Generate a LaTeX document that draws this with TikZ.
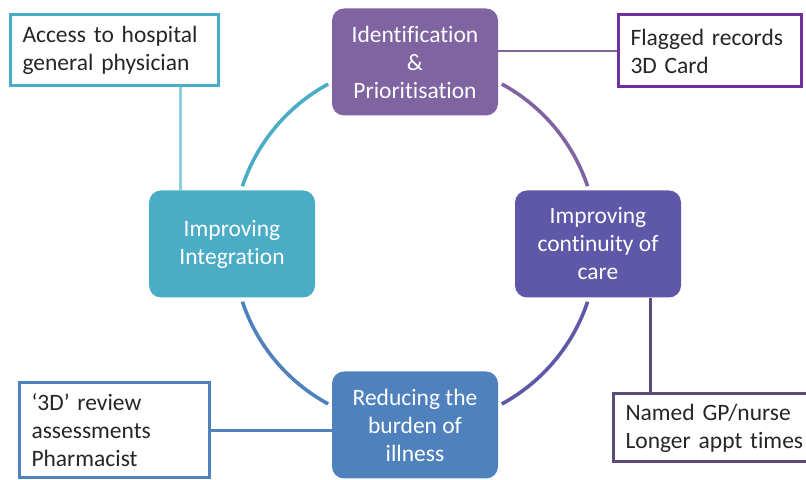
\documentclass[tikz,border=0pt]{standalone}
\usepackage{fontspec}
\setmainfont{Carlito}[Ligatures={TeX,NoCommon}]
\usepackage{xcolor}
\usetikzlibrary{positioning}

\definecolor{integcol}{HTML}{4BACC6}
\definecolor{identcol}{HTML}{8064A2}
\definecolor{contincol}{HTML}{5F58A8}
\definecolor{burdencol}{HTML}{4F81BD}
\definecolor{flagcol}{HTML}{7030A0}
\definecolor{namedcol}{HTML}{5F4B78}
\definecolor{accesslink}{HTML}{8ECFE0}

\begin{document}
\begin{tikzpicture}[x=0.5pt, y=0.5pt,
	txt/.style={font=\fontsize{11.75}{14}\selectfont},
	stage/.style={txt, rounded corners=6pt, minimum width=83pt, minimum height=53.5pt,
		align=center, text=white, inner sep=2pt},
	note/.style={txt, draw, line width=1.5pt, fill=white, align=left,
		inner xsep=6pt, text=black!85},
	ring/.style={line width=1.8pt},
	link/.style={line width=1.2pt}]
		\useasboundingbox (0,0) rectangle (806,480);
		\clip (0,0) rectangle (806,480);
		\coordinate (hub) at (415,236);
		% the four stages round the cycle
		\node[stage, fill=identcol] (ident) at (415,418) {Identification\\\&\\Prioritisation};
		\node[stage, fill=contincol] (contin) at (598,236) {Improving\\continuity of\\care};
		\node[stage, fill=burdencol] (burden) at (415,55) {Reducing the\\burden of\\illness};
		\node[stage, fill=integcol] (integ) at (232,236) {Improving\\Integration};
		% arcs of the ring, each in the colour of the stage it leaves
		\foreach \a/\c in {161.5/integcol, 61.5/identcol, -18.5/contincol, -118.5/burdencol}
		\draw[ring, \c] ([shift={(\a:182)}]hub) arc[start angle=\a, delta angle=-43, radius=182];
		% notes beside the stages
		\node[note, draw=integcol, text width=92pt, minimum height=35.5pt] (access) at (114.5,429.5)
			{Access to hospital\\general physician};
		\node[note, draw=flagcol, text width=79.5pt, minimum height=36pt] (flagged) at (710,429)
			{Flagged records\\3D Card};
		\node[note, draw=burdencol, text width=83pt, minimum height=47.5pt] (review) at (114.5,49.5)
			{‘3D’ review\\assessments\\Pharmacist};
		\node[note, draw=namedcol, text width=95pt, minimum height=34pt] (named) at (720.5,52)
			{Named GP/nurse\\Longer appt times};
		\draw[link, accesslink] ([xshift=16pt]integ.north west) -- ([xshift=16pt]integ.north west |- access.south);
		\draw[link, identcol] (flagged.west -| ident.east) -- (flagged.west);
		\draw[link, namedcol] ([xshift=-15.5pt]contin.south east) -- ([xshift=-15.5pt]contin.south east |- named.north);
		\draw[link, burdencol] (review.east) -- (review.east -| burden.west);
	\end{tikzpicture}
\end{document}
